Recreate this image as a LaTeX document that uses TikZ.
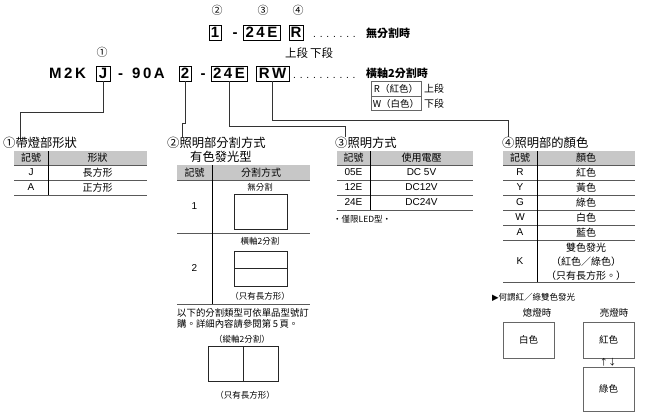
\documentclass[tikz,border=0pt]{standalone}
\usepackage{fontspec}
\setmainfont{Noto Sans CJK TC}
\newfontfamily\codefont{Liberation Sans}
\newfontfamily\symfont{DejaVu Sans}
\begin{document}
\begin{tikzpicture}[x=1pt,y=-1pt,
  code/.style={font=\codefont\bfseries\fontsize{15}{15}\selectfont, inner sep=0pt, text height=10.7pt, text depth=0pt},
  cbox/.style={code, draw, line width=0.9pt, minimum height=15pt, inner xsep=1pt},
  dotrow/.style={font=\codefont\fontsize{10.2}{11}\selectfont, inner sep=0pt, anchor=base west},
  circ/.style={font=\fontsize{11}{11}\selectfont, inner sep=0pt},
  lbl/.style={font=\bfseries\fontsize{11}{11}\selectfont, inner sep=0pt, anchor=west},
  seg/.style={font=\fontsize{11.5}{12}\selectfont, inner sep=0pt, anchor=west},
  hd/.style={font=\fontsize{12.3}{13}\selectfont, inner sep=0pt, anchor=west},
  tb/.style={font=\fontsize{10}{10}\selectfont, inner sep=0pt},
  tl/.style={font=\codefont\fontsize{10}{10}\selectfont, inner sep=0pt},
  sm/.style={font=\fontsize{8.5}{9}\selectfont, inner sep=0pt},
  para/.style={font=\fontsize{9.4}{10}\selectfont, inner sep=0pt, anchor=west},
  conn/.style={draw=black!80, line width=0.6pt},
  hline/.style={draw=black!65, line width=0.7pt},
  vline/.style={draw=black, line width=0.7pt},
  hfill/.style={fill=black!22},
  frame/.style={draw=black!85, line width=0.7pt},
  gbox/.style={draw=black!60, line width=0.9pt, inner sep=0pt, font=\fontsize{9.5}{10}\selectfont}
]
\useasboundingbox (0,0) rectangle (650,417);

% ---- upper code line
\node[circ] (n2) at (217,10) {②};
\node[circ] (n3) at (263,10) {③};
\node[circ] (n4) at (298,10) {④};
\node[cbox, minimum width=12pt] (u1) at (215,32.5) {1};
\node[code] (ud) at (235,32.5) {-};
\node[cbox, minimum width=37pt] (u24) at (261.5,32.5) {2\,4\,E};
\node[cbox, minimum width=14pt] (uR) at (296,32.5) {R};
\node[dotrow] (udots) at (313,37.8) {. . . . . . .};
\node[lbl] (t1) at (366,33.5) {無分割時};
\node[seg] (up) at (285,53) {上段};
\node[seg] (dn) at (310,53) {下段};

% ---- lower code line
\node[circ] (n1) at (102,52) {①};
\node[code, anchor=west] (m2k) at (49,73.5) {M\,2\,K};
\node[cbox, minimum width=14pt] (bJ) at (103,73.5) {J};
\node[code] (d1) at (120.5,73.5) {-};
\node[code, anchor=west] (n90a) at (132,73.5) {9\,0\,A};
\node[cbox, minimum width=12pt] (b2) at (185,73.5) {2};
\node[code] (d2) at (203,73.5) {-};
\node[cbox, minimum width=36pt] (b24) at (229,73.5) {2\,4\,E};
\node[cbox, minimum width=33pt] (bRW) at (272.5,73.5) {R\,W};
\node[dotrow] (ldots) at (293,78.8) {. . . . . . . . . .};
\node[lbl] (t2) at (366,73.5) {橫軸2分割時};

% R / W small table
\node[gbox, minimum width=50pt, minimum height=14.5pt] (rbox) at (396,89) {R（紅色）};
\node[gbox, minimum width=50pt, minimum height=14.5pt] (wbox) at (396,103.5) {W（白色）};
\node[seg, font=\fontsize{10}{10}\selectfont] (rup) at (424,89) {上段};
\node[seg, font=\fontsize{10}{10}\selectfont] (wdn) at (424,103.5) {下段};

% ---- headings
\node[hd] (h1) at (3,143) {①帶燈部形狀};
\node[hd] (h2) at (167,143) {②照明部分割方式};
\node[hd] (h2b) at (190,157) {有色發光型};
\node[hd] (h3) at (335,143) {③照明方式};
\node[hd] (h4) at (502,143) {④照明部的顏色};

% ---- connectors
\coordinate (c1) at (20,112);
\coordinate (c2) at (182,123);
\coordinate (c3) at (345,126);
\coordinate (c4) at (508,120);
\draw[conn] (bJ.south) |- (c1) -- (c1 |- h1.north);
\draw[conn] (b2.south) |- (c2) -- (c2 |- h2.north);
\draw[conn] (b24.south) |- (c3) -- (c3 |- h3.north);
\draw[conn] (bRW.south) |- (c4) -- (c4 |- h4.north);

% ---- table 1
\fill[hfill] (14,151) rectangle (147,165);
\draw[hline] (14,165) -- (147,165) (14,180) -- (147,180) (14,195) -- (147,195);
\draw[vline] (48,151) -- (48,195);
\node[tb] (a1) at (31,158) {記號};
\node[tb] (a2) at (97.5,158) {形狀};
\node[tl] (a3) at (31,172.5) {J};
\node[tb] (a4) at (97.5,172.5) {長方形};
\node[tl] (a5) at (31,187.5) {A};
\node[tb] (a6) at (97.5,187.5) {正方形};

% ---- table 2
\fill[hfill] (177,165) rectangle (310,180);
\draw[hline] (177,180) -- (310,180) (177,233) -- (310,233) (177,304) -- (310,304);
\draw[vline] (212,165) -- (212,304);
\node[tb] (b1) at (194.5,172.5) {記號};
\node[tb] (b2h) at (261,172.5) {分割方式};
\node[tl] (b3) at (194.5,206) {1};
\node[sm] (b4) at (260,187) {無分割};
\draw[frame] (234,194) rectangle (287,229);
\node[tl] (b5) at (194.5,268) {2};
\node[sm] (b6) at (260,241) {橫軸2分割};
\draw[frame] (234,251) rectangle (287,286);
\draw[frame] (234,268.5) -- (287,268.5);
\node[sm] (b7) at (260,296) {（只有長方形）};
\node[para] (p1) at (177,313) {以下的分割類型可依單品型號訂};
\node[para] (p2) at (177,324) {購。詳細內容請參閱第\,5\,頁。};
\node[sm] (b8) at (242,339) {（縱軸2分割）};
\draw[frame] (208,346) rectangle (278,381);
\draw[frame] (243,346) -- (243,381);
\node[sm] (b9) at (245,395) {（只有長方形）};

% ---- table 3
\fill[hfill] (337,151) rectangle (473,165);
\draw[hline] (337,165) -- (473,165) (337,180) -- (473,180) (337,195) -- (473,195) (337,210) -- (473,210);
\draw[vline] (370,151) -- (370,210);
\node[tb] (c1h) at (353.5,158) {記號};
\node[tb] (c2h) at (421.5,158) {使用電壓};
\node[tl] (c11) at (353.5,172.5) {05E};
\node[tl] (c12) at (421.5,172.5) {DC 5V};
\node[tl] (c21) at (353.5,187.5) {12E};
\node[tl] (c22) at (421.5,187.5) {DC12V};
\node[tl] (c31) at (353.5,202.5) {24E};
\node[tl] (c32) at (421.5,202.5) {DC24V};
\node[sm, anchor=west] (cn) at (333,219) {・僅限LED型・};

% ---- table 4
\fill[hfill] (503,151) rectangle (635,165);
\draw[hline] (503,165) -- (635,165) (503,180) -- (635,180) (503,195) -- (635,195) (503,210) -- (635,210) (503,225) -- (635,225) (503,240) -- (635,240) (503,282) -- (635,282);
\draw[vline] (537,151) -- (537,282);
\node[tb] (d1h) at (520,158) {記號};
\node[tb] (d2h) at (586,158) {顏色};
\node[tl] (dR) at (520,172.5) {R};
\node[tb] (dR2) at (586,172.5) {紅色};
\node[tl] (dY) at (520,187.5) {Y};
\node[tb] (dY2) at (586,187.5) {黃色};
\node[tl] (dG) at (520,202.5) {G};
\node[tb] (dG2) at (586,202.5) {綠色};
\node[tl] (dW) at (520,217.5) {W};
\node[tb] (dW2) at (586,217.5) {白色};
\node[tl] (dA) at (520,232.5) {A};
\node[tb] (dA2) at (586,232.5) {藍色};
\node[tl] (dK) at (520,261) {K};
\node[tb] (dK1) at (586,248) {雙色發光};
\node[tb] (dK2) at (586,262) {（紅色／綠色）};
\node[tb] (dK3) at (586,276) {（只有長方形。）};

% ---- two-colour explanation
\node[sm, anchor=west] (q) at (492,297) {{\symfont ▶}何謂紅／綠雙色發光};
\node[sm, font=\fontsize{9.5}{10}\selectfont] (off) at (537,313) {熄燈時};
\node[sm, font=\fontsize{9.5}{10}\selectfont] (on) at (614,313) {亮燈時};
\node[gbox, minimum width=51pt, minimum height=36pt] (bw) at (528.5,340) {白色};
\node[gbox, minimum width=51pt, minimum height=36pt] (brd) at (608.5,340) {紅色};
\node[sm] (arr) at (608,362.5) {↑↓};
\node[gbox, minimum width=51pt, minimum height=44pt] (bgr) at (608.5,389) {綠色};
\end{tikzpicture}
\end{document}
